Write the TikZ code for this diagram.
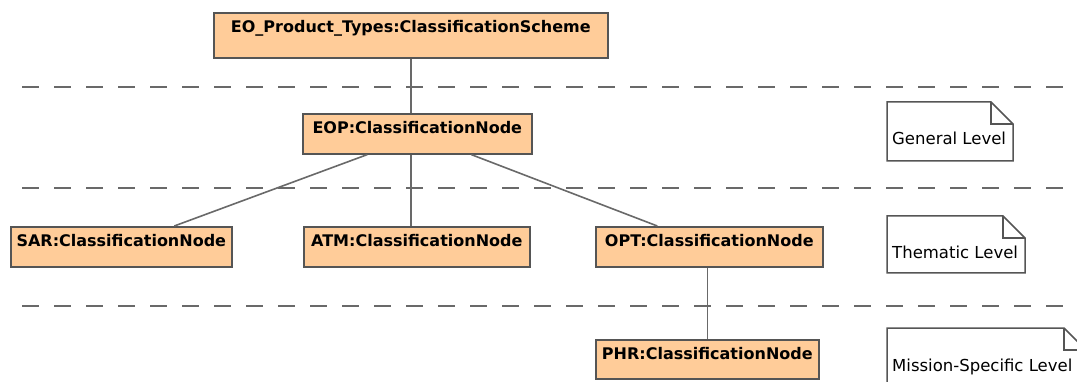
\documentclass[tikz,border=0pt]{standalone}
\usepackage{fontspec}
\setmainfont{DejaVu Sans}
\definecolor{classfill}{RGB}{255,204,153}
\definecolor{classline}{RGB}{85,85,85}
\definecolor{linkgray}{RGB}{105,105,105}
\tikzset{
    classbox/.style={draw=classline, fill=classfill, line width=1.6pt,
        anchor=north west, inner xsep=0pt, inner ysep=0pt,
        text height=20pt, font=\fontsize{16}{19}\selectfont\bfseries},
    link/.style={draw=linkgray, line width=1.6pt},
    levelsep/.style={draw=linkgray, line width=1.9pt, dash pattern=on 17pt off 15pt},
    notetext/.style={inner sep=0pt, anchor=base west, font=\fontsize{16.5}{19}\selectfont}
}
\newcommand{\levelnote}[6]{
    \draw[draw=classline, fill=white, line width=1.5pt] (#2,#3) -- (#4-22,#3)
        -- (#4,#3+22)
        -- (#4,#5)
        -- (#2,#5)
        -- cycle;
    \draw[draw=classline, line width=1.5pt] (#4-22,#3) -- (#4-22,#3+22) -- (#4,#3+22);
    \node[notetext] (#1) at (#2+5,#3+43) {#6};
}

\begin{document}
\begin{tikzpicture}[x=1pt, y=-1pt]
    \clip (0,0) rectangle (1077,382);
    \fill[white] (0,0) rectangle (1077,382);

    \foreach \y in {87, 188, 306} {
        \draw[levelsep] (22,\y) -- (1077,\y);
    }

    \node[classbox, minimum width=394pt, text depth=25pt] (scheme) at (213,12) {EO\_Product\_Types:ClassificationScheme};
    \node[classbox, minimum width=229pt, text depth=20pt] (eop) at (302,113) {EOP:ClassificationNode};
    \node[classbox, minimum width=221pt, text depth=20pt] (sar) at (10,226) {SAR:ClassificationNode};
    \node[classbox, minimum width=226pt, text depth=20pt] (atm) at (303,226) {ATM:ClassificationNode};
    \node[classbox, minimum width=227pt, text depth=20pt] (opt) at (595,226) {OPT:ClassificationNode};
    \node[classbox, minimum width=223pt, text depth=19pt] (phr) at (595,339) {PHR:ClassificationNode};

    \draw[link] (scheme.south) -- (scheme.south |- eop.north);
    \draw[link] ([xshift=-50pt]eop.south) -- ([xshift=53pt]sar.north);
    \draw[link] (scheme.south |- eop.south) -- (scheme.south |- atm.north);
    \draw[link] ([xshift=54pt]eop.south) -- ([xshift=-52pt]opt.north);
    \draw[link] ([xshift=-2pt]opt.south) -- ([xshift=-2pt]opt.south |- phr.north);

    \levelnote{general}{887}{102}{1013}{161}{General Level}
    \levelnote{thematic}{887}{216}{1025}{273}{Thematic Level}
    \levelnote{mission}{887}{328}{1086}{396}{Mission-Specific Level}
\end{tikzpicture}
\end{document}
